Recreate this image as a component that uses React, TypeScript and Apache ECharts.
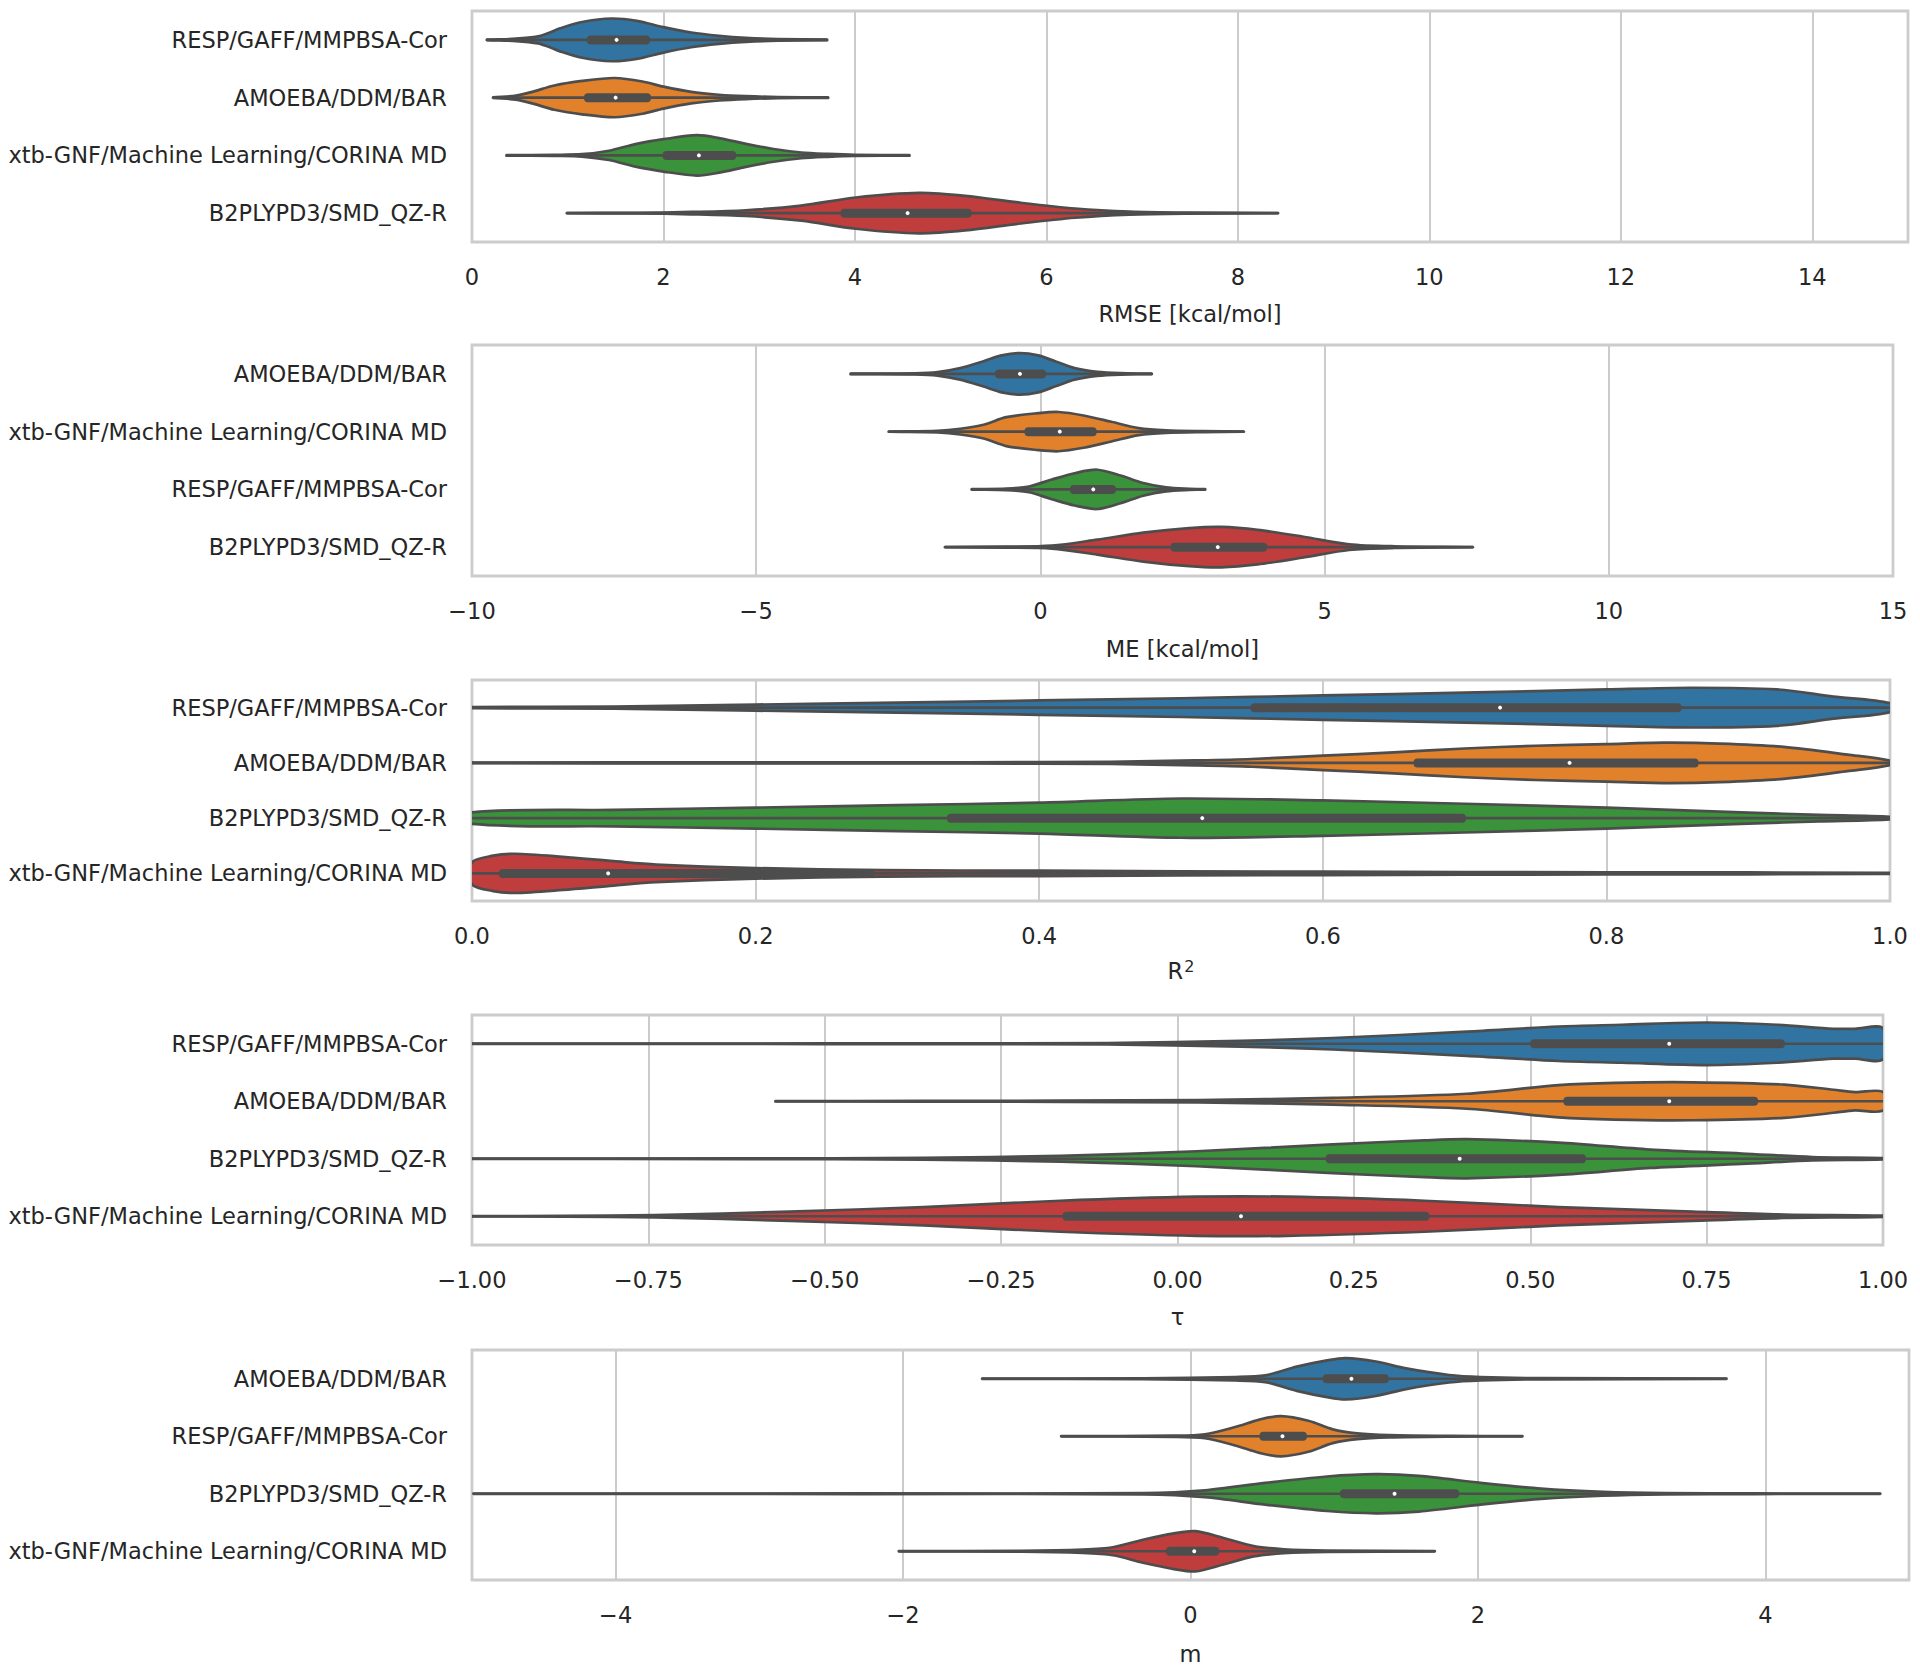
import React, { useEffect, useRef } from "react";
import * as echarts from "echarts";

// ---------- DATA ----------
const COLORS = ["#3274a1", "#e1812c", "#3a923a", "#c03d3e"];

// Panel 1: RMSE
const rmseCategories = ["RESP/GAFF/MMPBSA-Cor", "AMOEBA/DDM/BAR", "xtb-GNF/Machine Learning/CORINA MD", "B2PLYPD3/SMD_QZ-R"];
const rmseTicks = [0, 2, 4, 6, 8, 10, 12, 14];
const rmseBoxes = [[1.2, 1.51, 1.86], [1.17, 1.5, 1.87], [1.99, 2.37, 2.76], [3.85, 4.55, 5.22]];
const rmseProfiles = [
  [[0.155, 0.003], [0.46, 0.02], [0.69, 0.06], [0.8, 0.12], [0.92, 0.2], [1.15, 0.31], [1.46, 0.37], [1.72, 0.33], [2.0, 0.22], [2.29, 0.127], [2.58, 0.07], [2.86, 0.035], [3.2, 0.015], [3.71, 0.003]],
  [[0.22, 0.003], [0.46, 0.035], [0.63, 0.1], [0.86, 0.21], [1.15, 0.29], [1.49, 0.34], [1.78, 0.28], [2.0, 0.19], [2.29, 0.1], [2.58, 0.05], [2.86, 0.025], [3.2, 0.01], [3.72, 0.003]],
  [[0.36, 0.003], [0.86, 0.01], [1.15, 0.02], [1.43, 0.08], [1.72, 0.2], [2.0, 0.28], [2.35, 0.35], [2.58, 0.3], [2.86, 0.2], [3.15, 0.11], [3.44, 0.05], [3.72, 0.025], [4.0, 0.01], [4.57, 0.003]],
  [[0.99, 0.002], [1.72, 0.005], [2.29, 0.02], [2.86, 0.05], [3.44, 0.13], [4.01, 0.27], [4.67, 0.35], [5.15, 0.3], [5.73, 0.18], [6.3, 0.08], [6.87, 0.025], [7.45, 0.008], [8.42, 0.002]],
];

// Panel 2: ME
const meCategories = ["AMOEBA/DDM/BAR", "xtb-GNF/Machine Learning/CORINA MD", "RESP/GAFF/MMPBSA-Cor", "B2PLYPD3/SMD_QZ-R"];
const meTicks = [-10, -5, 0, 5, 10, 15];
const meBoxes = [[-0.8, -0.36, 0.1], [-0.28, 0.34, 0.99], [0.52, 0.93, 1.33], [2.29, 3.12, 3.99]];
const meProfiles = [
  [[-3.34, 0.003], [-2.21, 0.01], [-1.81, 0.03], [-1.41, 0.1], [-1.0, 0.22], [-0.68, 0.32], [-0.36, 0.36], [-0.04, 0.32], [0.28, 0.21], [0.6, 0.1], [1.0, 0.035], [1.41, 0.012], [1.96, 0.003]],
  [[-2.67, 0.002], [-1.81, 0.015], [-1.41, 0.05], [-1.0, 0.12], [-0.6, 0.25], [-0.04, 0.32], [0.32, 0.34], [0.76, 0.28], [1.25, 0.17], [1.73, 0.06], [2.21, 0.02], [2.86, 0.007], [3.58, 0.002]],
  [[-1.21, 0.003], [-0.6, 0.012], [-0.2, 0.05], [0.2, 0.17], [0.6, 0.28], [1.0, 0.34], [1.41, 0.24], [1.81, 0.11], [2.21, 0.035], [2.62, 0.01], [2.9, 0.003]],
  [[-1.68, 0.002], [-0.6, 0.007], [0.2, 0.025], [1.0, 0.13], [1.81, 0.25], [2.62, 0.33], [3.18, 0.35], [3.82, 0.3], [4.63, 0.18], [5.43, 0.05], [6.24, 0.015], [7.61, 0.002]],
];

// Panel 3: R²
const r2Categories = ["RESP/GAFF/MMPBSA-Cor", "AMOEBA/DDM/BAR", "B2PLYPD3/SMD_QZ-R", "xtb-GNF/Machine Learning/CORINA MD"];
const r2Ticks = [0, 0.2, 0.4, 0.6, 0.8, 1.0];
const r2Boxes = [[0.549, 0.725, 0.853], [0.664, 0.774, 0.865], [0.335, 0.515, 0.701], [0.019, 0.096, 0.284]];
const r2Profiles = [
  [[0, 0.01], [0.1, 0.02], [0.2, 0.055], [0.3, 0.09], [0.4, 0.13], [0.5, 0.17], [0.6, 0.22], [0.7, 0.27], [0.8, 0.33], [0.86, 0.36], [0.92, 0.33], [0.96, 0.2], [1.0, 0.08]],
  [[0, 0.006], [0.2, 0.008], [0.35, 0.01], [0.45, 0.02], [0.51, 0.045], [0.55, 0.07], [0.6, 0.13], [0.65, 0.19], [0.7, 0.26], [0.75, 0.31], [0.8, 0.34], [0.84, 0.365], [0.88, 0.35], [0.925, 0.29], [0.97, 0.15], [1.0, 0.04]],
  [[0, 0.105], [0.1, 0.15], [0.2, 0.19], [0.3, 0.235], [0.4, 0.28], [0.5, 0.355], [0.6, 0.32], [0.7, 0.26], [0.8, 0.19], [0.9, 0.1], [0.95, 0.06], [1.0, 0.025]],
  [[0, 0.2], [0.015, 0.32], [0.03, 0.355], [0.064, 0.3], [0.1, 0.22], [0.13, 0.16], [0.2, 0.096], [0.29, 0.06], [0.4, 0.048], [0.6, 0.03], [0.8, 0.02], [1.0, 0.01]],
];

// Panel 4: tau
const tauCategories = ["RESP/GAFF/MMPBSA-Cor", "AMOEBA/DDM/BAR", "B2PLYPD3/SMD_QZ-R", "xtb-GNF/Machine Learning/CORINA MD"];
const tauTicks = [-1, -0.75, -0.5, -0.25, 0, 0.25, 0.5, 0.75, 1];
const tauBoxes = [[0.5, 0.697, 0.861], [0.547, 0.697, 0.823], [0.21, 0.4, 0.579], [-0.163, 0.09, 0.357]];
const tauProfiles = [
  [[-1, 0.003], [-0.5, 0.005], [-0.1, 0.012], [0.09, 0.05], [0.22, 0.1], [0.41, 0.21], [0.54, 0.3], [0.63, 0.33], [0.75, 0.37], [0.85, 0.33], [0.93, 0.26], [0.96, 0.26], [1.0, 0.27]],
  [[-0.57, 0.003], [-0.36, 0.005], [0.03, 0.02], [0.22, 0.06], [0.41, 0.13], [0.54, 0.28], [0.62, 0.32], [0.73, 0.33], [0.86, 0.29], [0.93, 0.2], [0.96, 0.16], [1.0, 0.16]],
  [[-1, 0.003], [-0.615, 0.005], [-0.36, 0.015], [-0.166, 0.05], [0.027, 0.13], [0.22, 0.25], [0.35, 0.32], [0.41, 0.34], [0.54, 0.28], [0.67, 0.16], [0.8, 0.09], [0.9, 0.03], [1.0, 0.012]],
  [[-1, 0.003], [-0.87, 0.005], [-0.74, 0.02], [-0.55, 0.08], [-0.36, 0.16], [-0.166, 0.27], [0.027, 0.34], [0.155, 0.34], [0.35, 0.27], [0.54, 0.16], [0.73, 0.08], [0.86, 0.03], [1.0, 0.012]],
];

// Panel 5: m
const mCategories = ["AMOEBA/DDM/BAR", "RESP/GAFF/MMPBSA-Cor", "B2PLYPD3/SMD_QZ-R", "xtb-GNF/Machine Learning/CORINA MD"];
const mTicks = [-4, -2, 0, 2, 4];
const mBoxes = [[0.92, 1.12, 1.38], [0.48, 0.64, 0.81], [1.04, 1.42, 1.87], [-0.17, 0.026, 0.2]];
const mProfiles = [
  [[-1.45, 0.002], [-0.33, 0.005], [0.31, 0.03], [0.52, 0.06], [0.74, 0.21], [0.95, 0.32], [1.08, 0.36], [1.29, 0.3], [1.5, 0.18], [1.8, 0.065], [2.02, 0.03], [2.44, 0.01], [3.73, 0.002]],
  [[-0.9, 0.002], [-0.12, 0.01], [0.1, 0.035], [0.31, 0.16], [0.48, 0.29], [0.63, 0.35], [0.82, 0.27], [0.99, 0.12], [1.16, 0.05], [1.38, 0.02], [1.8, 0.006], [2.31, 0.002]],
  [[-4.99, 0.002], [-2.28, 0.005], [-0.33, 0.012], [0.1, 0.06], [0.52, 0.19], [0.95, 0.3], [1.29, 0.34], [1.59, 0.31], [2.02, 0.19], [2.44, 0.09], [2.87, 0.035], [3.3, 0.012], [3.93, 0.005], [4.8, 0.002]],
  [[-2.03, 0.002], [-1.18, 0.008], [-0.75, 0.03], [-0.54, 0.07], [-0.33, 0.2], [-0.115, 0.31], [0.034, 0.35], [0.23, 0.23], [0.44, 0.09], [0.65, 0.035], [0.95, 0.012], [1.7, 0.002]],
];

// ---------- STYLE / LAYOUT ----------
const FONT = '"DejaVu Sans", "Liberation Sans", sans-serif';
const TEXT = "#262626";
const EDGE = "#4d4d4d";
const GRIDC = "#cccccc";
const FS = 22.5;

const minus = (s: string) => s.replace("-", "\u2212");

const panels = [
  { name: "RMSE [kcal/mol]", cats: rmseCategories, ticks: rmseTicks, boxes: rmseBoxes, profiles: rmseProfiles, min: 0, max: 15, interval: 1, dec: 0, top: 11, height: 231, width: 1436, nameGap: 60 },
  { name: "ME [kcal/mol]", cats: meCategories, ticks: meTicks, boxes: meBoxes, profiles: meProfiles, min: -10, max: 15, interval: 5, dec: 0, top: 345, height: 231, width: 1421, nameGap: 61 },
  { name: "R{sup|2}", cats: r2Categories, ticks: r2Ticks, boxes: r2Boxes, profiles: r2Profiles, min: 0, max: 1, interval: 0.2, dec: 1, top: 680, height: 221, width: 1418, nameGap: 57 },
  { name: "\u03c4", cats: tauCategories, ticks: tauTicks, boxes: tauBoxes, profiles: tauProfiles, min: -1, max: 1, interval: 0.25, dec: 2, top: 1015, height: 230, width: 1411, nameGap: 60 },
  { name: "m", cats: mCategories, ticks: mTicks, boxes: mBoxes, profiles: mProfiles, min: -5, max: 5, interval: 1, dec: 0, top: 1350, height: 230, width: 1437, nameGap: 62 },
];

function buildOption() {
  const grid: any[] = [];
  const xAxis: any[] = [];
  const yAxis: any[] = [];
  const series: any[] = [];
  panels.forEach((p, k) => {
    grid.push({
      left: 472, top: p.top, width: p.width, height: p.height,
      show: true, borderColor: GRIDC, borderWidth: 2.8, backgroundColor: "transparent",
      containLabel: false, outerBoundsMode: "none",
    });
    xAxis.push({
      type: "value", gridIndex: k, min: p.min, max: p.max, interval: p.interval,
      name: p.name, nameLocation: "middle", nameGap: p.nameGap,
      nameTextStyle: {
        fontSize: FS, color: TEXT, fontFamily: FONT,
        rich: { sup: { fontSize: 16, color: TEXT, fontFamily: FONT, verticalAlign: "bottom", padding: [0, 0, 10, 1] } },
      },
      axisLine: { show: false },
      axisTick: { show: false, customValues: p.ticks },
      axisLabel: {
        customValues: p.ticks, margin: 23, fontSize: FS, color: TEXT, fontFamily: FONT,
        formatter: (v: number) => minus(Number(v).toFixed(p.dec)),
      },
      splitLine: { show: true, lineStyle: { color: GRIDC, width: 2 } },
    });
    yAxis.push({
      type: "category", gridIndex: k, data: p.cats, inverse: true,
      axisLine: { show: false }, axisTick: { show: false }, splitLine: { show: false },
      axisLabel: { margin: 25, fontSize: FS, color: TEXT, fontFamily: FONT },
    });
    series.push({
      type: "custom", xAxisIndex: k, yAxisIndex: k, clip: true,
      encode: { x: 0, y: 1 },
      data: p.boxes.map((b, i) => [b[1], i]),
      renderItem: (params: any, api: any) => {
        const i = params.dataIndex;
        const prof = p.profiles[i];
        const box = p.boxes[i];
        const band = api.size([0, 1])[1];
        const cy = api.coord([0, i])[1];
        const top = prof.map(([v, w]: number[]) => [api.coord([v, i])[0], cy - w * band]);
        const bot = prof.slice().reverse().map(([v, w]: number[]) => [api.coord([v, i])[0], cy + w * band]);
        const x0 = api.coord([prof[0][0], i])[0];
        const x1 = api.coord([prof[prof.length - 1][0], i])[0];
        const q1 = api.coord([box[0], i])[0];
        const md = api.coord([box[1], i])[0];
        const q3 = api.coord([box[2], i])[0];
        return {
          type: "group",
          children: [
            {
              type: "polygon",
              shape: { points: top.concat(bot), smooth: 0.3 },
              style: { fill: COLORS[i], stroke: EDGE, lineWidth: 2.7, lineJoin: "round" },
            },
            { type: "line", shape: { x1: x0, y1: cy, x2: x1, y2: cy }, style: { stroke: EDGE, lineWidth: 2.7 } },
            { type: "rect", shape: { x: q1, y: cy - 4.5, width: q3 - q1, height: 9, r: 4 }, style: { fill: EDGE } },
            { type: "circle", shape: { cx: md, cy: cy, r: 2 }, style: { fill: "#ffffff" } },
          ],
        };
      },
    });
  });
  return {
    animation: false,
    backgroundColor: "#ffffff",
    textStyle: { fontFamily: FONT },
    grid, xAxis, yAxis, series,
  };
}

export default function App() {
  const ref = useRef<HTMLDivElement>(null);
  useEffect(() => {
    if (!ref.current) return;
    const chart = echarts.init(ref.current, null, { renderer: "svg" });
    chart.setOption(buildOption() as any);
    return () => chart.dispose();
  }, []);
  return (
    <div
      ref={ref}
      style={{ position: "fixed", left: 0, top: 0, width: 1920, height: 1671, background: "#fff" }}
    />
  );
}
